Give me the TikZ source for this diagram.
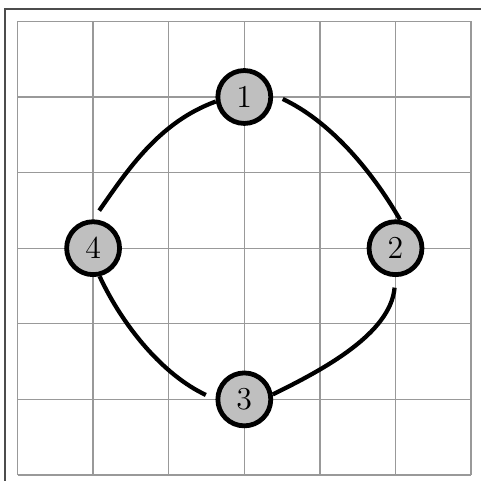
\documentclass[tikz,border=0pt]{standalone}
\usepackage{tikz}

\begin{document}
\begin{tikzpicture}[every node/.style={font=\large},
    vertex/.style={circle,draw,line width=1.8pt,fill=black!25,minimum size=0.7cm,inner sep=0pt},
    link/.style={line width=1.6pt,shorten <=4pt}]
  \useasboundingbox (-0.2315,-0.079) rectangle (6.131,6.283);
  \draw[black!70,line width=0.7pt] (-0.165,-0.2) |- (6.3,6.164);
  \draw[gray!80,line width=0.5pt] (0,0) grid (6,6);

  \node[vertex] (n1) at (3,5) {1};
  \node[vertex] (n2) at (5,3) {2};
  \node[vertex] (n3) at (3,1) {3};
  \node[vertex] (n4) at (1,3) {4};

  \draw[link] (n1.5) .. controls +(-25:0.8) and +(120:0.8) .. (n2.81);
  \draw[link] (n2.-90) .. controls +(-95:0.75) and +(26:0.75) .. (n3.10);
  \draw[link] (n3.180) .. controls +(155:0.75) and +(-65:0.75) .. (n4.-77);
  \draw[link] (n4.90) .. controls +(55:0.8) and +(200:0.8) .. (n1.189);
\end{tikzpicture}
\end{document}
